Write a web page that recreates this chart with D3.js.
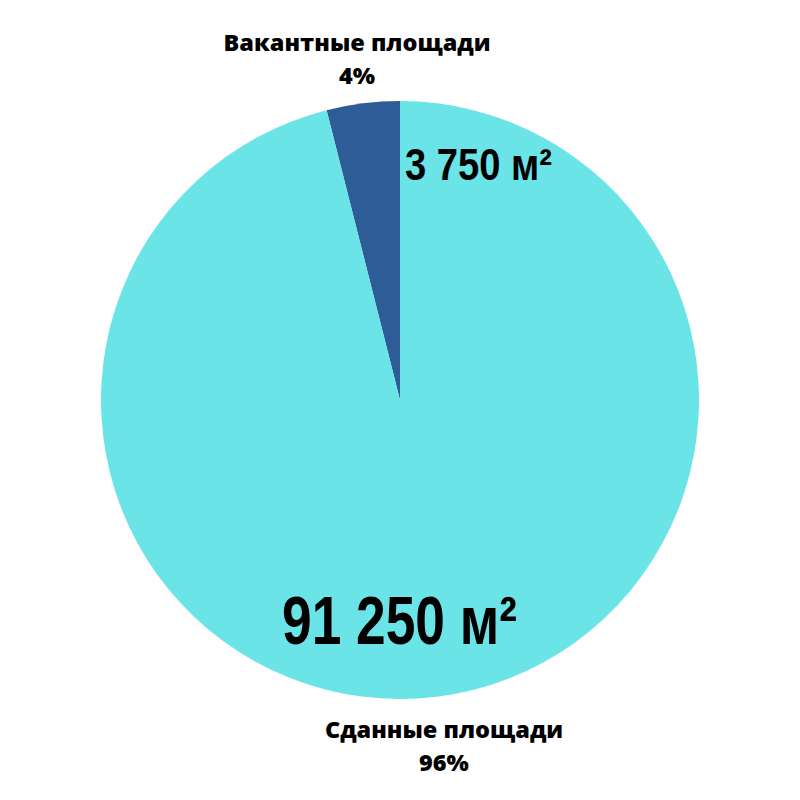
<!DOCTYPE html>
<html>
<head>
<meta charset="utf-8">
<script src="https://cdn.jsdelivr.net/npm/d3@7"></script>
<style>
  body { margin: 0; background: #fff; }
  svg { display: block; }
</style>
</head>
<body>
<svg id="chart" width="800" height="800"></svg>
<script>
// data
const categories = ["Вакантные площади", "Сданные площади"];
const areas = [3750, 91250];
const percents = ["4%", "96%"];
const areaLabels = ["3 750 м²", "91 250 м²"];
const colors = ["#2e5c96", "#6ae4e7"];

const svg = d3.select("#chart");
const cx = 400, cy = 400, radius = 299;

// vacant slice sits just left of 12 o'clock, so run the pie counter-clockwise
const pie = d3.pie().sort(null).startAngle(0).endAngle(-2 * Math.PI);
const arcs = pie(areas);
const arc = d3.arc().innerRadius(0).outerRadius(radius);

const g = svg.append("g").attr("transform", `translate(${cx},${cy})`);

g.selectAll("path")
  .data(arcs)
  .join("path")
  .attr("fill", (d, i) => colors[i])
  .attr("d", arc);

// category labels
const catFont = "'Open Sans', sans-serif";
const catPos = [
  { x: 357, y: 51 },
  { x: 444, y: 738 }
];
categories.forEach((c, i) => {
  const t = svg.append("text")
    .attr("text-anchor", "middle")
    .attr("font-family", catFont)
    .attr("font-weight", 800)
    .attr("font-size", 23.5)
    .attr("fill", "#000");
  t.append("tspan").attr("x", catPos[i].x).attr("y", catPos[i].y).text(c);
  t.append("tspan").attr("x", catPos[i].x).attr("y", catPos[i].y + 33).text(percents[i]);
});

// area values, squeezed to look condensed
const numFont = "'Liberation Sans', 'DejaVu Sans', sans-serif";
svg.append("text")
  .attr("x", 405).attr("y", 180)
  .attr("font-family", numFont)
  .attr("font-weight", 700)
  .attr("font-size", 44)
  .attr("textLength", 147)
  .attr("lengthAdjust", "spacingAndGlyphs")
  .attr("fill", "#000")
  .text(areaLabels[0]);

svg.append("text")
  .attr("x", 282).attr("y", 644)
  .attr("font-family", numFont)
  .attr("font-weight", 700)
  .attr("font-size", 68)
  .attr("textLength", 235)
  .attr("lengthAdjust", "spacingAndGlyphs")
  .attr("fill", "#000")
  .text(areaLabels[1]);
</script>
</body>
</html>
